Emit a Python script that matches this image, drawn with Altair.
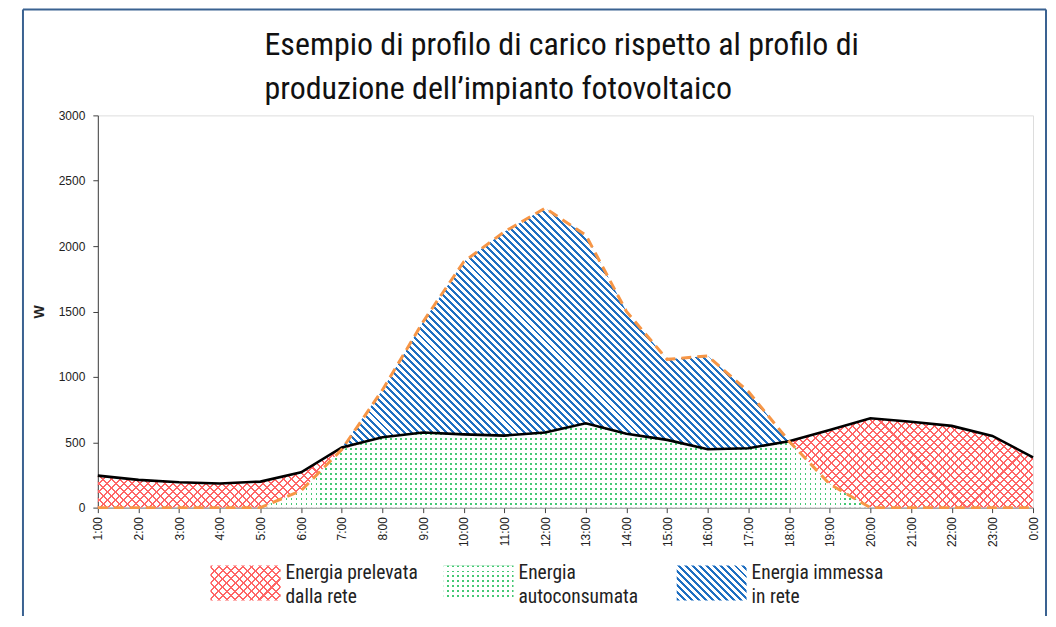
import math
import altair as alt
import pandas as pd

# ---------------- data ----------------
hours = ["1:00", "2:00", "3:00", "4:00", "5:00", "6:00", "7:00", "8:00",
         "9:00", "10:00", "11:00", "12:00", "13:00", "14:00", "15:00", "16:00",
         "17:00", "18:00", "19:00", "20:00", "21:00", "22:00", "23:00", "0:00"]
load = [245, 212, 194, 184, 199, 270, 460, 538, 574, 560, 551, 574,
        645, 565, 518, 446, 454, 508, 594, 683, 657, 625, 548, 385]
prod = [0, 0, 0, 0, 0, 130, 445, 900, 1422, 1881, 2110, 2290,
        2085, 1500, 1134, 1160, 887, 508, 180, 0, 0, 0, 0, 0]
y_ticks = [0, 500, 1000, 1500, 2000, 2500, 3000]
title_lines = ["Esempio di profilo di carico rispetto al profilo di",
               "produzione dell\u2019impianto fotovoltaico"]
legend_items = ["prelevata", "autoconsumata", "immessa"]
legend_labels = ["Energia prelevata\ndalla rete", "Energia\nautoconsumata",
                 "Energia immessa\nin rete"]

# ---------------- layout / style ----------------
W_PLOT, H_PLOT = 937, 393
Y_MAX = 3000
NARROW = "Liberation Sans Narrow, Roboto Condensed, DejaVu Sans Condensed, sans-serif"
ARIAL = "Liberation Sans, Arial, sans-serif"
BLUE = "#1f6fc1"
RED = "#ff6666"
GREEN = "#45c874"
ORANGE = "#f79646"
CLEAR = "rgba(255,255,255,0)"

n = len(hours)
df = pd.DataFrame({"hour": hours, "load": load, "prod": prod})
df["idx"] = range(n)
df["low"] = df[["load", "prod"]].min(axis=1)
df["high"] = df[["load", "prod"]].max(axis=1)

sx = W_PLOT / (n - 1)
sy = H_PLOT / Y_MAX

# rows belonging to the exported-energy region (plus one neighbour each side)
surplus = [i for i in range(n) if prod[i] > load[i]]
b0, b1 = max(surplus[0] - 1, 0), min(surplus[-1] + 1, n - 1)
df_blue = df[(df["idx"] >= b0) & (df["idx"] <= b1)]


def stripes(color, W, H, period, duty, direction):
    """Linear gradient with hard stops -> hatch pattern inside a bbox W x H px."""
    if direction in ("down", "up"):
        c = (W + H) / (W * W + H * H)
        if direction == "down":
            x1, y1, x2, y2 = 0, 1, c * W, 1 - c * H
        else:
            x1, y1, x2, y2 = 0, 0, c * W, c * H
        span = (W + H) / math.sqrt(2)
    elif direction == "h":
        x1, y1, x2, y2 = 0, 0, 0, 1
        span = H
    else:
        x1, y1, x2, y2 = 0, 0, 1, 0
        span = W
    k = span / period
    stops = []
    i = 0
    while i / k < 1:
        a = i / k
        b = min((i + duty) / k, 1.0)
        e = min((i + 1) / k, 1.0)
        stops += [{"offset": a, "color": color}, {"offset": b, "color": color},
                  {"offset": b, "color": CLEAR}, {"offset": e, "color": CLEAR}]
        i += 1
    return {"gradient": "linear", "x1": x1, "y1": y1, "x2": x2, "y2": y2,
            "stops": stops}


# hatch styles
RED_P, RED_D = 5.8, 0.25
BLUE_P, BLUE_D = 5.0, 0.42
GRN_HP, GRN_HD = 5.0, 0.36
GRN_VP, GRN_VD = 5.0, 0.62

# bounding boxes of each area (pixels)
Wf = W_PLOT
H_green = max(df["low"]) * sy
H_red = (max(df["load"]) - min(df["low"])) * sy
W_blue = (b1 - b0) * sx
H_blue = (max(df_blue["high"]) - min(df_blue["load"])) * sy

x_enc = alt.X("hour:O", scale=alt.Scale(type="point", domain=hours, padding=0),
              axis=alt.Axis(title=None, labelAngle=270, labelFontSize=12,
                            labelFont=ARIAL, labelColor="#222", tickSize=5,
                            labelPadding=4, domainColor="#808080",
                            tickColor="#404040"))
y_axis = alt.Axis(values=y_ticks, format="d", grid=False, title="W",
                  titleFont=ARIAL, titleFontSize=14, titleFontWeight="bold",
                  titleColor="#222", titlePadding=12, labelFont=ARIAL,
                  labelFontSize=12, labelColor="#222", tickSize=5,
                  labelPadding=8, domainColor="#404040", tickColor="#404040")
y_scale = alt.Scale(domain=[0, Y_MAX], nice=False)

base = alt.Chart(df)

green_dots = base.mark_area(
    fill=stripes(GREEN, Wf, H_green, GRN_HP, GRN_HD, "h"), opacity=1
).encode(x=x_enc, y=alt.Y("low:Q", scale=y_scale, axis=y_axis), y2=alt.datum(0))
green_mask = base.mark_area(
    fill=stripes("#ffffff", Wf, H_green, GRN_VP, GRN_VD, "v"), opacity=1
).encode(x=x_enc, y=alt.Y("low:Q", scale=y_scale, axis=y_axis), y2=alt.datum(0))

red_a = base.mark_area(
    fill=stripes(RED, Wf, H_red, RED_P, RED_D, "down"), opacity=1
).encode(x=x_enc, y=alt.Y("load:Q", scale=y_scale, axis=y_axis), y2="low:Q")
red_b = base.mark_area(
    fill=stripes(RED, Wf, H_red, RED_P, RED_D, "up"), opacity=1
).encode(x=x_enc, y=alt.Y("load:Q", scale=y_scale, axis=y_axis), y2="low:Q")

blue = alt.Chart(df_blue).mark_area(
    fill=stripes(BLUE, W_blue, H_blue, BLUE_P, BLUE_D, "down"), opacity=1
).encode(x=x_enc, y=alt.Y("high:Q", scale=y_scale, axis=y_axis), y2="load:Q")

load_line = base.mark_line(color="#000000", strokeWidth=2.6).encode(
    x=x_enc, y=alt.Y("load:Q", scale=y_scale, axis=y_axis))
prod_line = base.mark_line(color=ORANGE, strokeWidth=3, strokeDash=[10, 6]).encode(
    x=x_enc, y=alt.Y("prod:Q", scale=y_scale, axis=y_axis))

main = alt.layer(green_dots, green_mask, red_a, red_b, blue, load_line, prod_line)

# ---------------- legend (drawn below the axis) ----------------
ldf = pd.DataFrame({"item": legend_items, "label": legend_labels})
SW, SH = 70, 35
LY0, LY1 = 451, 486
lx = alt.X("item:N", scale=alt.Scale(type="point", domain=legend_items,
                                     range=[148, 615], padding=0), axis=None)
lbase = alt.Chart(ldf)


def swatch(item, fill):
    return lbase.transform_filter(alt.datum.item == item).mark_rect(
        width=SW, fill=fill, opacity=1
    ).encode(x=lx, y=alt.value(LY0), y2=alt.value(LY1))


leg = alt.layer(
    swatch("prelevata", stripes(RED, SW, SH, RED_P, RED_D, "down")),
    swatch("prelevata", stripes(RED, SW, SH, RED_P, RED_D, "up")),
    swatch("autoconsumata", stripes(GREEN, SW, SH, GRN_HP, GRN_HD, "h")),
    swatch("autoconsumata", stripes("#ffffff", SW, SH, GRN_VP, GRN_VD, "v")),
    swatch("immessa", stripes(BLUE, SW, SH, BLUE_P, BLUE_D, "down")),
    lbase.mark_text(align="left", baseline="top", dx=40, lineBreak="\n",
                    lineHeight=24, font=NARROW, fontSize=19.5, color="#222").encode(
        x=lx, y=alt.value(LY0 - 1), text="label:N"),
)

# ---------------- outer frame of the chart box ----------------
one = pd.DataFrame({"k": [0]})
FRAME = "#3a6291"
frame = alt.layer(
    alt.Chart(one).mark_rule(color=FRAME, strokeWidth=2).encode(
        x=alt.value(-75), y=alt.value(-106), y2=alt.value(520)),
    alt.Chart(one).mark_rule(color=FRAME, strokeWidth=2).encode(
        x=alt.value(-75), x2=alt.value(950), y=alt.value(-106)),
    alt.Chart(one).mark_rule(color=FRAME, strokeWidth=2).encode(
        x=alt.value(950), y=alt.value(-106), y2=alt.value(520)),
)

chart = alt.layer(main, leg, frame).resolve_scale(x="independent").properties(
    width=W_PLOT, height=H_PLOT,
    title=alt.TitleParams(text=title_lines, font=NARROW, fontSize=32,
                          fontWeight="normal", color="#111", anchor="start",
                          align="left", frame="group", lineHeight=44,
                          offset=12, dy=110, dx=167),
    autosize=alt.AutoSizeParams(type="none"),
    padding={"left": 90, "top": 107, "right": 15, "bottom": 108},
).configure_view(stroke="#a6a6a6", strokeWidth=1).configure(background="white")

chart.save("out.html", embed_options={"renderer": "svg", "actions": False})
